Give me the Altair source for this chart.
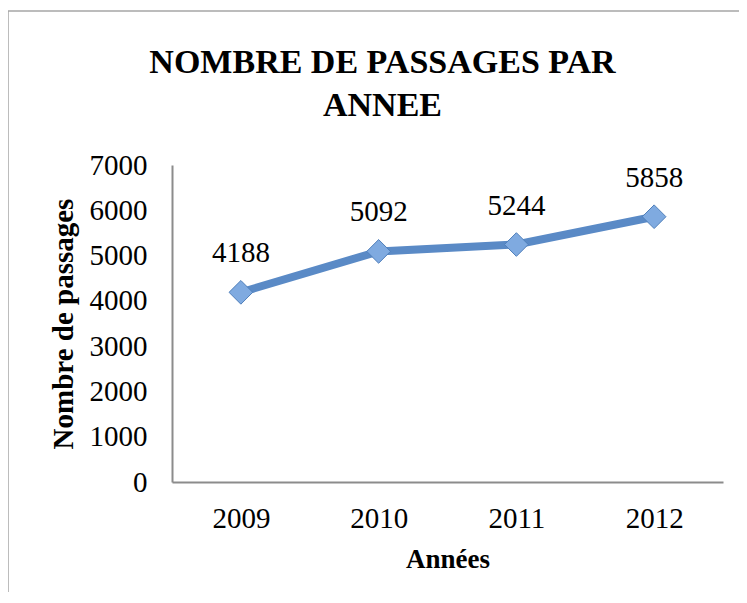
import altair as alt
import pandas as pd

years = ["2009", "2010", "2011", "2012"]
passages = [4188, 5092, 5244, 5858]
title_lines = ["NOMBRE DE PASSAGES PAR", "ANNEE"]
y_ticks = [0, 1000, 2000, 3000, 4000, 5000, 6000, 7000]
x_title = "Années"
y_title = "Nombre de passages"

FONT = "Liberation Serif"
W, H = 551, 317
NUM_SIZE = 29

df = pd.DataFrame({"year": years, "value": passages})

x_enc = alt.X(
    "year:O",
    sort=years,
    title=x_title,
    axis=alt.Axis(
        labelAngle=0,
        labelFontSize=NUM_SIZE,
        labelFont=FONT,
        labelColor="#000000",
        labelPadding=22,
        ticks=False,
        domainColor="#8C8C8C",
        domainWidth=2,
        grid=False,
        titleFont=FONT,
        titleFontSize=27,
        titleFontWeight="bold",
        titleColor="#000000",
        titleBaseline="alphabetic",
        titleY=85,
        titleX=W / 2,
    ),
)
y_enc = alt.Y(
    "value:Q",
    title=y_title,
    scale=alt.Scale(domain=[0, 7000], nice=False),
    axis=alt.Axis(
        values=y_ticks,
        format="d",
        labelFontSize=NUM_SIZE,
        labelFont=FONT,
        labelColor="#000000",
        labelPadding=25,
        ticks=False,
        domainColor="#8C8C8C",
        domainWidth=2,
        grid=False,
        titleFont=FONT,
        titleFontSize=29,
        titleFontWeight="bold",
        titleColor="#000000",
        titleBaseline="middle",
        titleX=-109,
        titleY=H / 2,
    ),
)

base = alt.Chart(df)

line = base.mark_line(color="#5A8AC6", strokeWidth=8).encode(x=x_enc, y=y_enc)
pts = base.mark_point(
    shape="diamond", filled=True, size=560, fill="#7FAAE0",
    stroke="#4F7FBA", strokeWidth=1, opacity=1
).encode(x=alt.X("year:O", sort=years), y="value:Q")
labels = base.mark_text(
    font=FONT, fontSize=NUM_SIZE, color="#000000", dy=-39, baseline="middle"
).encode(x=alt.X("year:O", sort=years), y="value:Q", text="value:Q")

frame_df = pd.DataFrame({"k": [0]})
frame = alt.Chart(frame_df).mark_rect(
    fill="transparent", stroke="#A6A6A6", strokeWidth=1.5
).encode(
    x=alt.value(-164), x2=alt.value(W + 40),
    y=alt.value(-154), y2=alt.value(H + 200),
)

t1 = alt.Chart(pd.DataFrame({"t": [title_lines[0]]})).mark_text(
    font=FONT, fontSize=34, fontWeight="bold", color="#000000",
    align="center", baseline="alphabetic"
).encode(text="t:N", x=alt.value(210.5), y=alt.value(73 - 165))
t2 = alt.Chart(pd.DataFrame({"t": [title_lines[1]]})).mark_text(
    font=FONT, fontSize=34, fontWeight="bold", color="#000000",
    align="center", baseline="alphabetic"
).encode(text="t:N", x=alt.value(210.5), y=alt.value(116 - 165))

chart = alt.layer(frame, line, pts, labels, t1, t2).properties(
    width=W, height=H,
    autosize=alt.AutoSizeParams(type="none"),
    padding={"left": 164, "top": 157, "right": 16, "bottom": 110},
    background="white",
).configure_view(stroke="transparent")

chart.save("out.html", embed_options={"renderer": "svg", "actions": False})
